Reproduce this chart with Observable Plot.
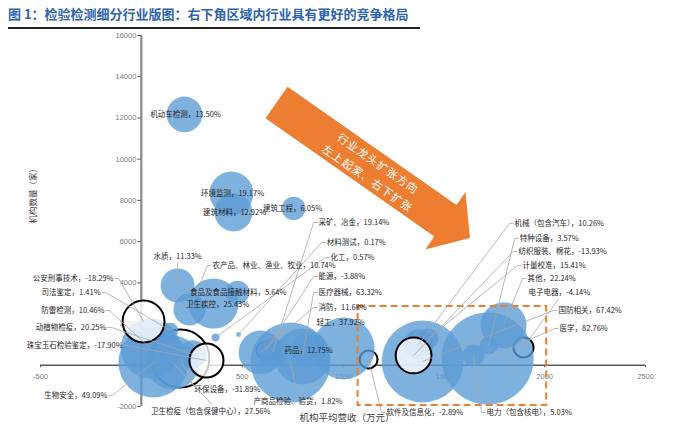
<!DOCTYPE html>
<html><head><meta charset="utf-8">
<script src="https://cdn.jsdelivr.net/npm/d3@7"></script>
<script src="https://cdn.jsdelivr.net/npm/@observablehq/plot@0.6"></script>
<style>
body{margin:0;background:#fff;width:700px;height:430px;overflow:hidden;}
#title{position:relative;height:30px;}
#title span{position:absolute;left:8px;top:4px;font:bold 13px 'Noto Sans CJK SC',sans-serif;color:#2E63AE;white-space:nowrap;}
#title i{position:absolute;left:8px;top:27px;width:412px;height:1.5px;background:#222;}
#chart svg{display:block;}
</style></head><body>
<div id="title"><span>图 1：检验检测细分行业版图：右下角区域内行业具有更好的竞争格局</span><i></i></div>
<div id="chart"></div>
<script>
// ---------- data ----------
const industries = ["环保设备","能源","软件及信息化","电子电器","机动车检测","环境监测","建筑材料","建筑工程","水质","农产品、林业、渔业、牧业","卫生疾控","食品及食品接触材料","司法鉴定","防雷检测","动植物检疫","生物安全","卫生检疫（包含保健中心）","化工","材料测试","消防","采矿、冶金","产商品检验、验货","医疗器械","药品","轻工","国防相关","机械（包含汽车）","计量校准","医学","其他","特种设备","电力（包含核电）","珠宝玉石检验鉴定","公安刑事技术","纺织服装、棉花"];
const avgRevenue = [194,616,1127,1895,214,447,457,755,180,239,358,477,145,46,254,60,155,368,482,591,651,740,799,829,1003,1395,1375,1424,1717,1796,1722,1647,323,11,1350];
const institutionCount = [330,718,281,863,12170,8336,7414,7608,3872,2707,2999,3532,1688,815,529,136,136,1349,1494,621,621,136,427,718,815,184,1014,1305,330,1936,960,475,233,2125,475];
const bubbleSize = [84,8,8,10,32,48,36,14,29,26,63,14,6,90,20,123,73,1.6,0.6,48,20,160,78,29,96,168,22,10,212,53,8,12,29,44,32];
const growthPct = [-31.89,-3.88,-2.89,-4.14,13.50,19.17,12.92,6.05,11.33,10.74,25.43,5.64,1.41,10.46,20.25,49.09,27.56,0.57,0.17,11.68,19.14,1.82,63.32,12.75,37.92,67.42,10.26,15.41,82.76,22.24,3.57,5.03,-17.90,-18.29,-13.93];

const xTicks = [-500,0,500,1000,1500,2000,2500];
const yTicks = [-2000,0,2000,4000,6000,8000,10000,12000,14000,16000];
const xTitle = "机构平均营收（万元）";
const yTitle = "机构数量（家）";
const arrowText = ["行业龙头扩张方向","左上起家、右下扩张"];

// ---------- annotation layout (data units) ----------
// [labelX, labelY, anchor, leader] leader: 0 none, 1 stub, [sx,sy] explicit start
const labelLayout = [
 [264,-1174,"start",[254,-980]],[879,4308,"start",1],[1216,-2290,"start",1],[1920,3532,"start",[2070,3241]],
 [219,12169,"middle",0],[452,8336,"middle",0],[462,7414,"middle",0],[750,7608,"middle",0],
 [180,5279,"middle",[180,4988]],[353,4842,"start",1],[378,2950,"middle",0],[480,3532,"middle",0],
 [-202,3532,"end",1],[-183,2659,"end",1],[-173,1834,"end",1],[-168,-1465,"end",1],
 [344,-2241,"middle",[354,-1941]],[938,5230,"start",1],[919,5958,"start",1],[879,2805,"start",1],
 [879,6929,"start",1],[777,-1756,"middle",[775,-1465]],[879,3532,"start",1],[829,718,"middle",0],
 [869,2077,"start",0],[2069,2659,"start",1],[1851,6880,"start",1],[1890,4842,"start",1],
 [2074,1785,"start",1],[1915,4212,"start",1],[1876,6152,"start",1],[1712,-2290,"start",1],
 [-93,960,"end",1],[-138,4212,"end",1],[1870,5522,"start",1]
];
const zone = {x1: 1075, x2: 2010, y1: -1950, y2: 2850};
const arrowSpec = {tail: [673, 12727], tip: [1632, 6152]};

// ---------- build ----------
const bubbles = industries.map((name, i) => ({
  name, x: avgRevenue[i], y: institutionCount[i], size: bubbleSize[i], g: growthPct[i],
  label: `${name}，${growthPct[i].toFixed(2)}%`,
  tx: labelLayout[i][0], ty: labelLayout[i][1], anchor: labelLayout[i][2], lead: labelLayout[i][3]
}));
const PX = 4.959; // data units per pixel (x)
const leaders = [];
for (const b of bubbles) {
  if (!b.lead) continue;
  if (Array.isArray(b.lead)) {
    leaders.push({x1: b.lead[0], y1: b.lead[1], x2: b.x, y2: b.y});
  } else {
    const s = b.anchor === "end" ? 1 : -1;
    const a = b.tx + s * 1 * PX, c = b.tx + s * 5 * PX;
    leaders.push({x1: a, y1: b.ty, x2: c, y2: b.ty});
    leaders.push({x1: c, y1: b.ty, x2: b.x, y2: b.y});
  }
}

const NS = "http://www.w3.org/2000/svg";
function arrowMark(index, scales) {
  const sx = scales.x, sy = scales.y;
  const x0 = sx(arrowSpec.tail[0]), y0 = sy(arrowSpec.tail[1]);
  const x1 = sx(arrowSpec.tip[0]), y1 = sy(arrowSpec.tip[1]);
  const dx = x1 - x0, dy = y1 - y0, len = Math.hypot(dx, dy);
  const ux = dx / len, uy = dy / len, px = -uy, py = ux;
  const sw = 19.3, hw = 35, hl = 30;
  const bx = x1 - ux * hl, by = y1 - uy * hl;
  const pts = [[x0 - px*sw, y0 - py*sw],[bx - px*sw, by - py*sw],[bx - px*hw, by - py*hw],[x1, y1],
               [bx + px*hw, by + py*hw],[bx + px*sw, by + py*sw],[x0 + px*sw, y0 + py*sw]];
  const g = document.createElementNS(NS, "g");
  const poly = document.createElementNS(NS, "polygon");
  poly.setAttribute("points", pts.map(p => p.join(",")).join(" "));
  poly.setAttribute("fill", "#ED7D31");
  g.appendChild(poly);
  const ang = Math.atan2(dy, dx) * 180 / Math.PI;
  const cx = x0 + ux * len * 0.5, cy = y0 + uy * len * 0.5;
  arrowText.forEach((t, k) => {
    const off = (k === 0 ? -1 : 1) * 9;
    const tx = cx + px * off, ty = cy + py * off;
    const el = document.createElementNS(NS, "text");
    el.setAttribute("x", tx); el.setAttribute("y", ty);
    el.setAttribute("fill", "white");
    el.setAttribute("font-size", "11");
    el.setAttribute("letter-spacing", "1");
    el.setAttribute("font-family", "'Noto Sans CJK SC', sans-serif");
    el.setAttribute("text-anchor", "middle");
    el.setAttribute("dominant-baseline", "central");
    el.setAttribute("transform", `rotate(${ang},${tx},${ty})`);
    el.textContent = t;
    g.appendChild(el);
  });
  return g;
}

const labelFont = {fontFamily: "'Noto Sans CJK SC', sans-serif", fontSize: 7.5, fill: "#262626"};
const tickFont = {fontFamily: "'Liberation Sans', Arial, sans-serif", fontSize: 7.5, fill: "#7a7a7a"};

const chart = Plot.plot({
  width: 700, height: 400,
  marginLeft: 40, marginRight: 55, marginTop: 5, marginBottom: 24,
  x: {domain: [-500, 2500], axis: null},
  y: {domain: [-2000, 16000], axis: null},
  r: {type: "sqrt", domain: [0, 212], range: [0, 46]},
  color: {type: "identity"},
  style: {fontFamily: "'Noto Sans CJK SC', sans-serif", background: "white", overflow: "visible"},
  marks: [
    Plot.ruleX([0], {y1: -2000, y2: 16000, stroke: "#8a8a8a", strokeWidth: 2.2}),
    Plot.ruleY([0], {x1: -500, x2: 2500, stroke: "#5a5a5a", strokeWidth: 1.5}),
    Plot.ruleY(yTicks, {y: d => d, x1: 0, x2: -3.5 * PX, stroke: "#5a5a5a", strokeWidth: 1}),
    Plot.ruleX(xTicks, {x: d => d, y1: 0, y2: -120, stroke: "#5a5a5a", strokeWidth: 1}),
    Plot.text(yTicks, {x: 0, y: d => d, text: d => String(d), textAnchor: "end", dx: -5, ...tickFont}),
    Plot.text(xTicks, {x: d => d, y: 0, text: d => String(d), dy: 11, ...tickFont}),
    Plot.dot(bubbles, {x: "x", y: "y", r: "size", sort: null,
      fill: d => d.g < 0 ? "white" : "#5B9BD5", fillOpacity: 0.78,
      stroke: d => d.g < 0 ? "black" : "none", strokeWidth: 2}),
    Plot.rect([zone], {x1: "x1", x2: "x2", y1: "y1", y2: "y2", fill: "none", stroke: "#ED7D31", strokeWidth: 2, strokeDasharray: "7,4"}),
    Plot.link(leaders, {x1: "x1", y1: "y1", x2: "x2", y2: "y2", stroke: "#a6a6a6", strokeWidth: 0.8}),
    Plot.text(bubbles.filter(d => d.anchor === "start"), {x: "tx", y: "ty", text: "label", textAnchor: "start", ...labelFont}),
    Plot.text(bubbles.filter(d => d.anchor === "end"), {x: "tx", y: "ty", text: "label", textAnchor: "end", ...labelFont}),
    Plot.text(bubbles.filter(d => d.anchor === "middle"), {x: "tx", y: "ty", text: "label", textAnchor: "middle", ...labelFont}),
    Plot.text([xTitle], {text: d => d, frameAnchor: "bottom", dx: 4, dy: 14, fontSize: 9.5, fill: "#404040"}),
    Plot.text([yTitle], {text: d => d, frameAnchor: "left", dx: -7, dy: 2.5, rotate: -90, fontSize: 8.5, fill: "#404040"}),
    arrowMark
  ]
});
document.getElementById("chart").appendChild(chart);
</script></body></html>
